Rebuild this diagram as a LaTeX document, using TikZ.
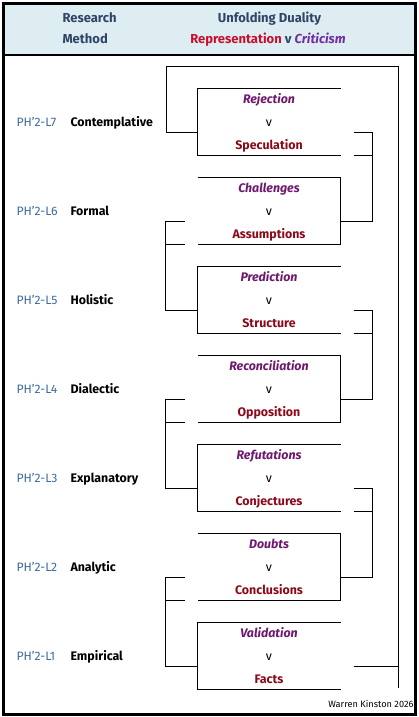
\documentclass[tikz,border=0pt]{standalone}
\usepackage{fontspec}
\setmainfont{Fira Sans}
\usetikzlibrary{calc}
\definecolor{hdrbg}{RGB}{221,237,242}
\definecolor{hdrtxt}{RGB}{47,68,104}
\definecolor{repred}{RGB}{200,16,46}
\definecolor{critpurple}{RGB}{112,48,160}
\definecolor{toppurple}{RGB}{110,24,110}
\definecolor{botred}{RGB}{139,10,26}
\definecolor{lvlblue}{RGB}{62,106,154}
\begin{document}
\begin{tikzpicture}[x=1pt,y=-1pt,line width=1pt,
  lvl/.style={anchor=base west,text=lvlblue,font=\fontsize{12.2}{14}\selectfont,inner sep=0pt},
  meth/.style={anchor=base west,font=\fontsize{12.4}{14}\selectfont\bfseries,inner sep=0pt},
  topw/.style={anchor=base,font=\fontsize{12.4}{14}\selectfont\bfseries\itshape,text=toppurple,inner sep=0pt},
  vw/.style={anchor=base,font=\fontsize{12.4}{14}\selectfont,inner sep=0pt},
  botw/.style={anchor=base,font=\fontsize{12.4}{14}\selectfont\bfseries,text=botred,inner sep=0pt},
  hdr/.style={anchor=base,font=\fontsize{13}{15}\selectfont\bfseries,text=hdrtxt,inner sep=0pt},
  boxarea/.style={minimum width=142pt,minimum height=66pt,inner sep=0pt,draw=none}]
\useasboundingbox (0,0) rectangle (419,717);
% header
\fill[hdrbg] (3,3) rectangle (416,55);
\draw[line width=1.5pt] (3,55) -- (416,55);
\draw[line width=3pt] (3.3,3.3) rectangle (415.7,714);
\node[hdr,anchor=base west] (hR) at (62,23) {Research};
\node[hdr,anchor=base west] (hM) at (62,43.5) {Method};
\node[hdr] (hU) at (269.5,23) {Unfolding Duality};
\node[hdr] (hD) at (268,43.5) {\textcolor{repred}{Representation} v \textcolor{critpurple}{\itshape Criticism}};
% levels
\foreach \k/\lab/\tw/\bw in {7/Contemplative/Rejection/Speculation,
  6/Formal/Challenges/Assumptions, 5/Holistic/Prediction/Structure,
  4/Dialectic/Reconciliation/Opposition, 3/Explanatory/Refutations/Conjectures,
  2/Analytic/Doubts/Conclusions, 1/Empirical/Validation/Facts}{
  \pgfmathsetmacro\T{89+89*(7-\k)}
  \node[boxarea] (b\k) at (269,\T+33) {};
  \node[lvl] (l\k) at (16,\T+37) {PH'2-L\k};
  \node[meth] (m\k) at (70,\T+37) {\lab};
  \node[topw] (t\k) at (269,\T+14) {\tw};
  \node[vw] (v\k) at (269,\T+37) {v};
  \node[botw] (w\k) at (269,\T+60) {\bw};
}
% boxes closed on the left
\foreach \k in {7,5,3,1}{
  \draw (b\k.north east) -- (b\k.north west) -- (b\k.south west) -- (b\k.south east);
}
% boxes closed on the right
\foreach \k in {6,4,2}{
  \draw (b\k.north west) -- (b\k.north east) -- (b\k.south east) -- (b\k.south west);
}
% right brackets
\foreach \a/\b in {7/6,5/4,3/2}{
  \coordinate (r\a) at ($(b\a.east)+(13,10)$);
  \coordinate (rs\a) at ($(b\a.south east)+(13,0)$);
  \coordinate (e\b) at ($(b\b.east)+(0,10)$);
  \draw (r\a) -- ++(19,0) |- (e\b);
  \draw (rs\a) -- ++(19,0);
}
% left brackets
\foreach \a/\b in {6/5,4/3,2/1}{
  \coordinate (lc\a) at ($(b\a.west)+(-13,10)$);
  \coordinate (ls\a) at ($(b\a.south west)+(-13,0)$);
  \coordinate (wc\b) at ($(b\b.west)+(0,10)$);
  \draw (lc\a) -- ++(-19,0) |- (wc\b);
  \draw (ls\a) -- ++(-19,0);
}
% outer bracket
\coordinate (w7c) at ($(b7.west)+(0,10)$);
\coordinate (otl) at (166,67);
\coordinate (otr) at (398,67);
\coordinate (obot) at (398,688);
\coordinate (r1) at ($(b1.east)+(13,10)$);
\draw (w7c) -| (otl) -- (otr) -- (obot);
\draw (r1) -- (r1 -| otr);
\node[anchor=base east,font=\fontsize{9.2}{11}\selectfont,inner sep=0pt] (cr) at (414,707) {Warren Kinston 2026};
\end{tikzpicture}
\end{document}
